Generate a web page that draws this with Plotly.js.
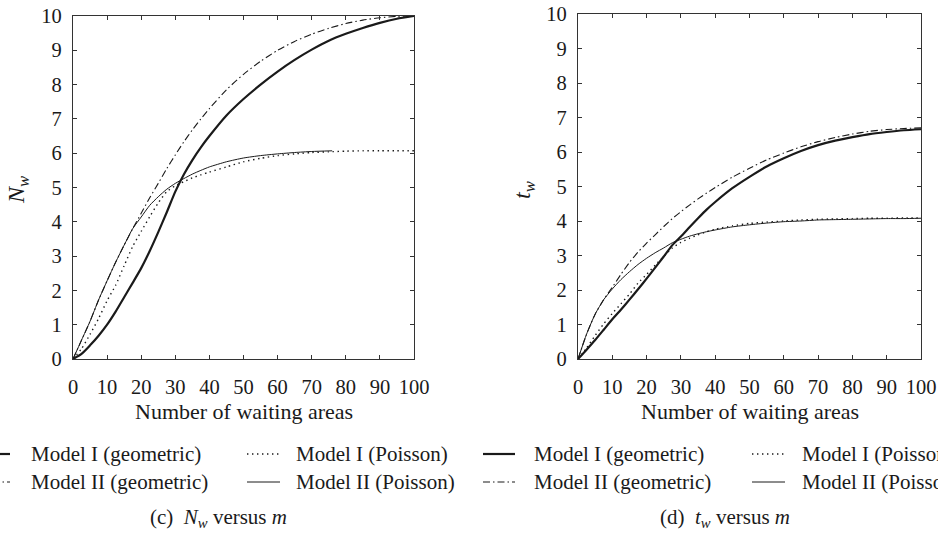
<!DOCTYPE html>
<html>
<head>
<meta charset="utf-8">
<script src="https://cdn.plot.ly/plotly-3.0.1.min.js"></script>
<style>html,body{margin:0;padding:0;background:#fff;}#chart{width:938px;height:536px;}</style>
</head>
<body>
<div id="chart"></div>
<script>
// ---------- common x values (number of waiting areas m) ----------
var m = [0,2.5,5,7.5,10,12.5,15,17.5,20,22.5,25,27.5,30,32.5,35,37.5,40,45,50,55,60,65,70,75,80,85,90,95,100];
var mShort = [0,2.5,5,7.5,10,12.5,15,17.5,20,22.5,25,27.5,30,32.5,35,37.5,40,45,50,55,60,65,70,76];

// ---------- panel (c): N_w versus m ----------
var nwModel1Geo = [0,0.15,0.4,0.68,1.0,1.38,1.8,2.22,2.65,3.15,3.7,4.28,4.88,5.38,5.8,6.17,6.5,7.1,7.58,8.0,8.38,8.72,9.02,9.28,9.48,9.65,9.8,9.92,10.0];
var nwModel2Geo = [0,0.55,1.1,1.72,2.28,2.82,3.32,3.8,4.25,4.7,5.12,5.55,5.95,6.33,6.68,7.0,7.3,7.85,8.3,8.68,9.0,9.26,9.47,9.64,9.78,9.88,9.95,9.99,10.0];
var nwModel1Poi = [0,0.3,0.72,1.18,1.7,2.15,2.72,3.28,3.72,4.15,4.55,4.88,5.05,5.17,5.28,5.37,5.45,5.6,5.75,5.85,5.93,5.98,6.02,6.04,6.06,6.07,6.07,6.07,6.07];
var nwModel2Poi = [0,0.55,1.1,1.72,2.28,2.82,3.32,3.8,4.14,4.48,4.73,4.95,5.12,5.26,5.39,5.5,5.6,5.75,5.86,5.93,5.98,6.02,6.05,6.07];

// ---------- panel (d): t_w versus m ----------
var twModel1Geo = [0,0.27,0.55,0.85,1.15,1.43,1.72,2.02,2.33,2.65,2.97,3.3,3.55,3.82,4.08,4.33,4.55,4.95,5.28,5.58,5.82,6.03,6.2,6.33,6.43,6.52,6.58,6.63,6.66];
var twModel2Geo = [0,0.72,1.3,1.72,2.08,2.45,2.8,3.1,3.36,3.6,3.84,4.07,4.27,4.46,4.64,4.81,4.97,5.27,5.53,5.77,5.97,6.15,6.3,6.42,6.52,6.6,6.65,6.68,6.7];
var twModel1Poi = [0,0.32,0.68,1.02,1.32,1.6,1.88,2.2,2.45,2.72,2.97,3.22,3.38,3.5,3.6,3.69,3.76,3.86,3.93,3.97,4.0,4.03,4.05,4.06,4.07,4.08,4.08,4.09,4.09];
var twModel2Poi = [0,0.72,1.3,1.72,2.03,2.3,2.53,2.74,2.92,3.08,3.22,3.37,3.47,3.56,3.63,3.69,3.74,3.83,3.89,3.94,3.98,4.0,4.03,4.04,4.05,4.06,4.07,4.07,4.08];

var seriesNames = ["Model I (geometric)", "Model I (Poisson)", "Model II (geometric)", "Model II (Poisson)"];
var yTickVals = [0,1,2,3,4,5,6,7,8,9,10];
var xTickVals = [0,10,20,30,40,50,60,70,80,90,100];
var xTitle = "Number of waiting areas";
var captions = ["(c)  <i>N</i><sub><i>w</i></sub> versus <i>m</i>", "(d)  <i>t</i><sub><i>w</i></sub> versus <i>m</i>"];
var yTitles = ["<i>N</i><sub><i>w</i></sub>", "<i>t</i><sub><i>w</i></sub>"];

// ---------- styles ----------
var INK = "#1a1a1a";
var FONT = "Liberation Serif, Times New Roman, serif";
var styles = {
  m1g: {color: INK, width: 2.2, dash: "solid"},
  m1p: {color: INK, width: 1.4, dash: "1.4px,3.6px"},
  m2g: {color: INK, width: 1.1, dash: "7px,3px,1.5px,3px"},
  m2p: {color: INK, width: 1.0, dash: "solid"}
};
function tr(x, y, st, name, xa, ya) {
  return {x: x, y: y, type: "scatter", mode: "lines", name: name, xaxis: xa, yaxis: ya,
          line: {color: st.color, width: st.width, dash: st.dash, shape: "spline", smoothing: 0.6},
          showlegend: false, hoverinfo: "skip"};
}
var data = [
  tr(m, nwModel1Poi, styles.m1p, seriesNames[1], "x", "y"),
  tr(mShort, nwModel2Poi, styles.m2p, seriesNames[3], "x", "y"),
  tr(m, nwModel2Geo, styles.m2g, seriesNames[2], "x", "y"),
  tr(m, nwModel1Geo, styles.m1g, seriesNames[0], "x", "y"),
  tr(m, twModel1Poi, styles.m1p, seriesNames[1], "x2", "y2"),
  tr(m, twModel2Poi, styles.m2p, seriesNames[3], "x2", "y2"),
  tr(m, twModel2Geo, styles.m2g, seriesNames[2], "x2", "y2"),
  tr(m, twModel1Geo, styles.m1g, seriesNames[0], "x2", "y2")
];

var W = 938, H = 536;
function px(x) { return x / W; }
function py(y) { return 1 - y / H; }

function axisX(dom) {
  return {domain: dom, range: [0, 100], tickvals: xTickVals, ticks: "inside", ticklen: 4, tickwidth: 1,
          tickcolor: "#333", showline: true, linecolor: "#333", linewidth: 1.1, mirror: "allticks",
          showgrid: false, zeroline: false, ticklabelstandoff: 9,
          tickfont: {family: FONT, size: 20.5, color: INK}, fixedrange: true};
}
function axisY(dom, anchor) {
  return {domain: dom, anchor: anchor, range: [0, 10], tickvals: yTickVals, ticks: "inside", ticklen: 4, tickwidth: 1,
          tickcolor: "#333", showline: true, linecolor: "#333", linewidth: 1.1, mirror: "allticks",
          showgrid: false, zeroline: false, ticklabelstandoff: 6,
          tickfont: {family: FONT, size: 20.5, color: INK}, fixedrange: true};
}

var layout = {
  width: W, height: H,
  margin: {l: 0, r: 0, t: 0, b: 0},
  paper_bgcolor: "#fff", plot_bgcolor: "#fff",
  showlegend: false,
  font: {family: FONT, color: INK, size: 20},
  xaxis: Object.assign(axisX([px(73), px(414)]), {anchor: "y"}),
  yaxis: axisY([py(359), py(16)], "x"),
  xaxis2: Object.assign(axisX([px(578), px(921)]), {anchor: "y2"}),
  yaxis2: axisY([py(359), py(14)], "x2"),
  shapes: [],
  annotations: []
};

var panels = [
  {plotL: 73, plotR: 414, yTitleX: 18, legSym1: [-22, 10], legTxt1: 29, legSym2: [247, 280], legTxt2: 294},
  {plotL: 578, plotR: 921, yTitleX: 524, legSym1: [483, 515], legTxt1: 532, legSym2: [752, 785], legTxt2: 800}
];
panels.forEach(function (p, i) {
  var cx = (p.plotL + p.plotR) / 2;
  layout.annotations.push({text: xTitle, xref: "paper", yref: "paper", x: px(cx), y: py(411),
    xanchor: "center", yanchor: "middle", showarrow: false, font: {family: FONT, size: 22, color: INK}});
  layout.annotations.push({text: yTitles[i], xref: "paper", yref: "paper", x: px(p.yTitleX), y: py(190),
    xanchor: "center", yanchor: "middle", textangle: -90, showarrow: false, font: {family: FONT, size: 24, color: INK}});
  layout.annotations.push({text: captions[i], xref: "paper", yref: "paper", x: px(cx - 25), y: py(518),
    xanchor: "center", yanchor: "middle", showarrow: false, font: {family: FONT, size: 21, color: INK}});
  var rows = [
    {sym: p.legSym1, txt: p.legTxt1, y: 454, st: styles.m1g, name: seriesNames[0]},
    {sym: p.legSym2, txt: p.legTxt2, y: 454, st: styles.m1p, name: seriesNames[1]},
    {sym: p.legSym1, txt: p.legTxt1, y: 482, st: styles.m2g, name: seriesNames[2]},
    {sym: p.legSym2, txt: p.legTxt2, y: 482, st: styles.m2p, name: seriesNames[3]}
  ];
  rows.forEach(function (r) {
    layout.shapes.push({type: "line", xref: "paper", yref: "paper", x0: px(r.sym[0]), x1: px(r.sym[1]),
      y0: py(r.y), y1: py(r.y), line: {color: r.st.color, width: r.st.width, dash: r.st.dash}});
    layout.annotations.push({text: r.name, xref: "paper", yref: "paper", x: px(r.txt), y: py(r.y),
      xanchor: "left", yanchor: "middle", showarrow: false, font: {family: FONT, size: 21, color: INK}});
  });
});

Plotly.newPlot("chart", data, layout, {displayModeBar: false, staticPlot: true});
</script>
</body>
</html>
